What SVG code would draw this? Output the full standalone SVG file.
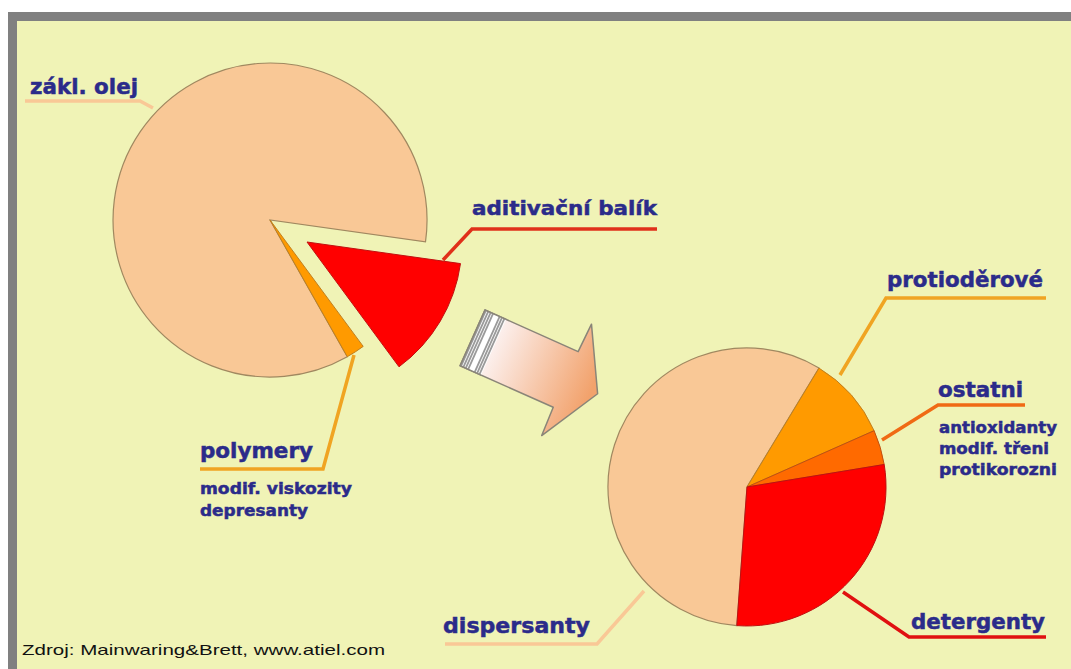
<svg xmlns="http://www.w3.org/2000/svg" width="1071" height="669" viewBox="0 0 1071 669">
<style>
.lbl{font-family:"DejaVu Sans","Liberation Sans",sans-serif;font-weight:bold;fill:#2b2b8a;stroke:#2b2b8a;stroke-width:0.5}
.big{font-size:21px}
.sm{font-size:16px}
.ln{fill:none;stroke-width:3.5;stroke-linejoin:miter;stroke-linecap:butt}
.peach{fill:#f9c896;stroke:#a08860;stroke-width:1.2}
.foot{font-family:"Liberation Sans",sans-serif;font-size:15px;fill:#111}
</style>
<defs>
<linearGradient id="ag" gradientUnits="userSpaceOnUse" x1="23" y1="0" x2="130" y2="0">
<stop offset="0" stop-color="#fcefec"/>
<stop offset="1" stop-color="#f2a26c"/>
</linearGradient>
</defs>
<rect x="0" y="0" width="1071" height="669" fill="#ffffff"/>
<rect x="8" y="12" width="1063" height="657" fill="#808080"/>
<rect x="17" y="21" width="1054" height="648" fill="#f0f3b6"/>

<g id="connectors">
<polyline class="ln" stroke="#f9c896" points="25,101 140,101 153,108"/>
<polyline class="ln" stroke="#e0301a" points="657,229 472,229 443,260"/>
<polyline class="ln" stroke="#f0a422" points="200,469 323,469 354,355"/>
<polyline class="ln" stroke="#f0a422" points="1046,298 886,298 840,375"/>
<polyline class="ln" stroke="#f06a14" points="1025,405 938,405 882,440"/>
<polyline class="ln" stroke="#e01010" points="1046,637 909,637 843,592"/>
<polyline class="ln" stroke="#f9c896" points="445,644 597,644 644,591"/>
</g>

<g id="pie-left">
<path class="peach" d="M270,220 L347.3,356.7 A157,157 0 1 1 425.5,241.9 Z"/>
<path d="M270,220 L363.2,346.4 A157,157 0 0 1 347.3,356.7 Z" fill="#ff9a00" stroke="#c08020" stroke-width="1"/>
<path d="M307,242 L460.5,263.6 A155,155 0 0 1 399,366.8 Z" fill="#ff0000" stroke="#c01010" stroke-width="1"/>
</g>

<g id="arrow" transform="translate(485,310) rotate(24.08)">
<polygon points="0,0 102,0 103,-30.5 137,30.5 103,91.5 102,61 0,61" fill="url(#ag)" stroke="#8a8578" stroke-width="1.5" stroke-linejoin="round"/>
<rect x="0" y="0" width="23" height="61" fill="#ffffff"/>
<g stroke="#9a9a9a" stroke-width="1.8">
<line x1="1" y1="0" x2="1" y2="61"/>
<line x1="3.6" y1="0" x2="3.6" y2="61"/>
<line x1="6.2" y1="0" x2="6.2" y2="61"/>
<line x1="8.8" y1="0" x2="8.8" y2="61"/>
<line x1="16" y1="0" x2="16" y2="61"/>
<line x1="18.6" y1="0" x2="18.6" y2="61"/>
<line x1="21.2" y1="0" x2="21.2" y2="61"/>
</g>
<polyline points="23,0 0,0 0,61 23,61" fill="none" stroke="#8a8578" stroke-width="1.5"/>
</g>

<g id="pie-right">
<path class="peach" d="M747,487 L736.8,625.6 A139,139 0 1 1 819,368.1 Z"/>
<path d="M747,487 L819,368.1 A139,139 0 0 1 874.1,430.7 Z" fill="#ff9a00" stroke="#c08020" stroke-width="1"/>
<path d="M747,487 L874.1,430.7 A139,139 0 0 1 884.2,464.5 Z" fill="#ff6a00" stroke="#c05010" stroke-width="1"/>
<path d="M747,487 L884.2,464.5 A139,139 0 0 1 736.8,625.6 Z" fill="#ff0000" stroke="#c01010" stroke-width="1"/>
</g>

<g id="label-zakl-olej"><text class="lbl" x="30" y="94" font-size="22" textLength="108" lengthAdjust="spacingAndGlyphs">zákl. olej</text></g>
<g id="label-aditivacni"><text class="lbl" x="472" y="215" font-size="20" textLength="185" lengthAdjust="spacingAndGlyphs">aditivační balík</text></g>
<g id="label-polymery">
<text class="lbl" x="200" y="458" font-size="21" textLength="113" lengthAdjust="spacingAndGlyphs">polymery</text>
<text class="lbl sm" x="200" y="494" textLength="152" lengthAdjust="spacingAndGlyphs">modif. viskozity</text>
<text class="lbl sm" x="200" y="516" textLength="108" lengthAdjust="spacingAndGlyphs">depresanty</text>
</g>
<g id="label-protioderove"><text class="lbl" x="887" y="287" font-size="21" textLength="156" lengthAdjust="spacingAndGlyphs">protioděrové</text></g>
<g id="label-ostatni">
<text class="lbl" x="938" y="397" font-size="21" textLength="85" lengthAdjust="spacingAndGlyphs">ostatni</text>
<text class="lbl sm" x="939" y="433" textLength="118" lengthAdjust="spacingAndGlyphs">antioxidanty</text>
<text class="lbl sm" x="939" y="454" textLength="110" lengthAdjust="spacingAndGlyphs">modif. třeni</text>
<text class="lbl sm" x="939" y="475" textLength="118" lengthAdjust="spacingAndGlyphs">protikorozni</text>
</g>
<g id="label-detergenty"><text class="lbl" x="911" y="629" font-size="21" textLength="134" lengthAdjust="spacingAndGlyphs">detergenty</text></g>
<g id="label-dispersanty"><text class="lbl" x="443" y="633" font-size="22" textLength="147" lengthAdjust="spacingAndGlyphs">dispersanty</text></g>
<g id="footer"><text class="foot" x="22" y="655" textLength="363" lengthAdjust="spacingAndGlyphs">Zdroj: Mainwaring&amp;Brett, www.atiel.com</text></g>
</svg>
